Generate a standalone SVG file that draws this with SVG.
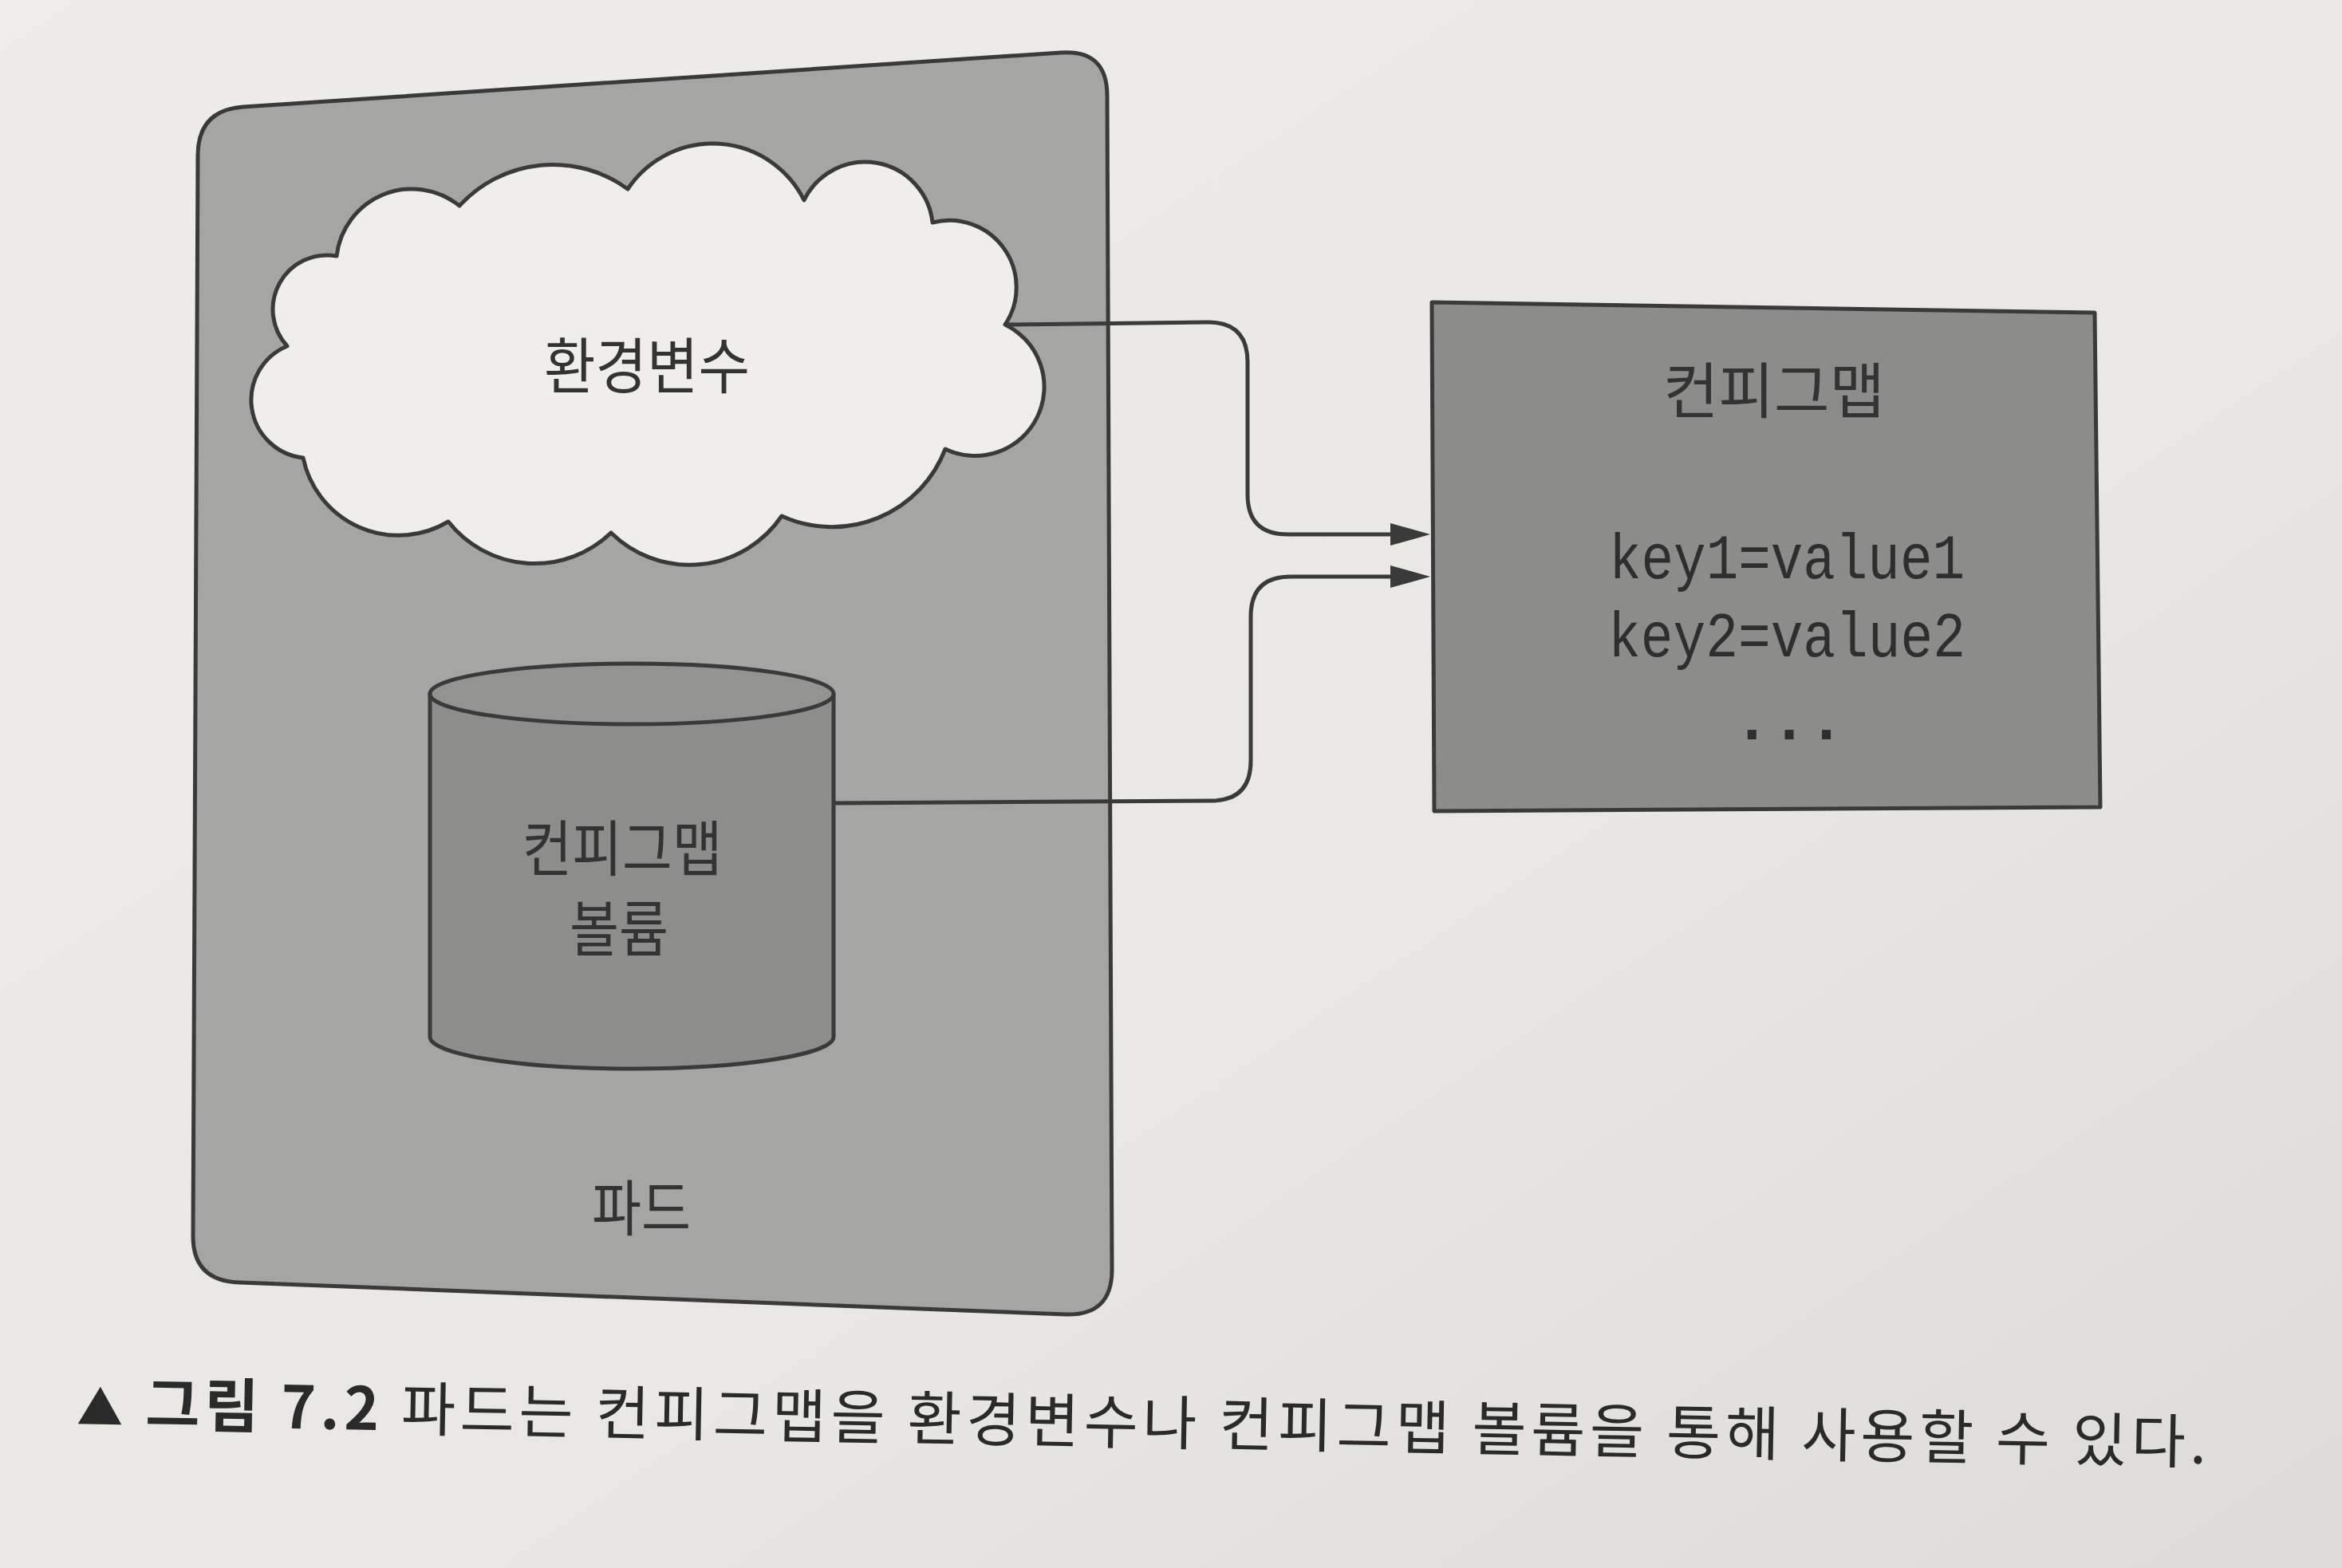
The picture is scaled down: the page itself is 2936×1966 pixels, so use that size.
<svg xmlns="http://www.w3.org/2000/svg" width="2936" height="1966" viewBox="0 0 2936 1966">
  <defs>
    <linearGradient id="paper" x1="0" y1="0" x2="1" y2="1">
      <stop offset="0" stop-color="#eeede9"/>
      <stop offset="0.6" stop-color="#e8e7e3"/>
      <stop offset="1" stop-color="#dcdbd7"/>
    </linearGradient>
    <marker id="arrow" markerUnits="userSpaceOnUse" markerWidth="52" markerHeight="30" refX="7" refY="15" orient="auto">
      <path d="M0,1 L50,15 L0,29 Z" fill="#3a3a3a"/>
    </marker>
    <style>
      .shape { stroke: #3a3a3a; stroke-width: 5; stroke-linejoin: round; }
      .label { font-family: "Noto Sans CJK KR", "Noto Sans", sans-serif; font-size: 76px; fill: #333333; text-anchor: middle; }
      .mono { font-family: "Liberation Mono", "DejaVu Sans Mono", monospace; font-size: 80px; fill: #2e2e2e; text-anchor: middle; }
      .conn { fill: none; stroke: #3a3a3a; stroke-width: 5; }
      .caption { font-family: "Noto Sans CJK KR", "Noto Sans", sans-serif; font-size: 74px; fill: #2a2a2a; }
    </style>
  </defs>

  <rect x="0" y="0" width="2936" height="1966" fill="url(#paper)"/>

  <g id="pod">
    <path class="shape" fill="#a5a5a3" d="M248,195 Q248,138 305,134 L1330,66 Q1388,62 1388,120 L1394,1592 Q1394,1650 1336,1648 L300,1608 Q242,1606 242,1550 Z"/>
    <text class="label" x="804" y="1543" textLength="124" lengthAdjust="spacingAndGlyphs">파드</text>
  </g>

  <g id="env-cloud">
    <path class="shape" fill="#efeeeb" d="M422,321 A95,95 0 0 1 576,258 A159,159 0 0 1 787,237 A128,128 0 0 1 1008,251 A85,85 0 0 1 1169,279 A84,84 0 0 1 1260,407 A86,86 0 0 1 1185,563 A152,152 0 0 1 980,647 A140,140 0 0 1 766,668 A138,138 0 0 1 562,654 A122,122 0 0 1 380,574 A73,73 0 0 1 360,434 A68,68 0 0 1 422,321 Z"/>
    <text class="label" x="811" y="487" textLength="258" lengthAdjust="spacingAndGlyphs">환경변수</text>
  </g>

  <g id="configmap-volume">
    <path class="shape" fill="#8d8d8b" d="M539,870 L539,1300 A253,40 0 0 0 1045,1300 L1045,870 Z"/>
    <ellipse class="shape" fill="#939391" cx="792" cy="870" rx="253" ry="38"/>
    <text class="label" x="780" y="1092" textLength="251" lengthAdjust="spacingAndGlyphs">컨피그맵</text>
    <text class="label" x="776" y="1193" textLength="124" lengthAdjust="spacingAndGlyphs">볼륨</text>
  </g>

  <g id="configmap">
    <path class="shape" fill="#8c8c8a" d="M1795,379 L2626,392 L2633,1012 L1798,1017 Z"/>
    <text class="label" x="2224" y="518" font-size="78" textLength="278" lengthAdjust="spacingAndGlyphs">컨피그맵</text>
    <text class="mono" x="2240" y="725" textLength="446" lengthAdjust="spacingAndGlyphs">key1=value1</text>
    <text class="mono" x="2240" y="823" textLength="448" lengthAdjust="spacingAndGlyphs">key2=value2</text>
    <text class="mono" x="2243" y="927" font-weight="bold" textLength="140" lengthAdjust="spacingAndGlyphs">...</text>
  </g>

  <g id="connectors">
    <path class="conn" marker-end="url(#arrow)" d="M1260,407 L1514,404 Q1564,404 1564,454 L1564,620 Q1564,670 1614,670 L1750,670"/>
    <path class="conn" marker-end="url(#arrow)" d="M1045,1007 L1518,1004 Q1568,1004 1568,954 L1568,773 Q1568,723 1618,723 L1750,723"/>
  </g>

  <g id="caption" transform="rotate(1.05 96 1786)">
    <text class="caption" x="96" y="1786" textLength="2670" lengthAdjust="spacing"><tspan font-weight="bold"><tspan font-size="58">▲</tspan> 그림 7.2</tspan> 파드는 컨피그맵을 환경변수나 컨피그맵 볼륨을 통해 사용할 수 있다.</text>
  </g>
</svg>
